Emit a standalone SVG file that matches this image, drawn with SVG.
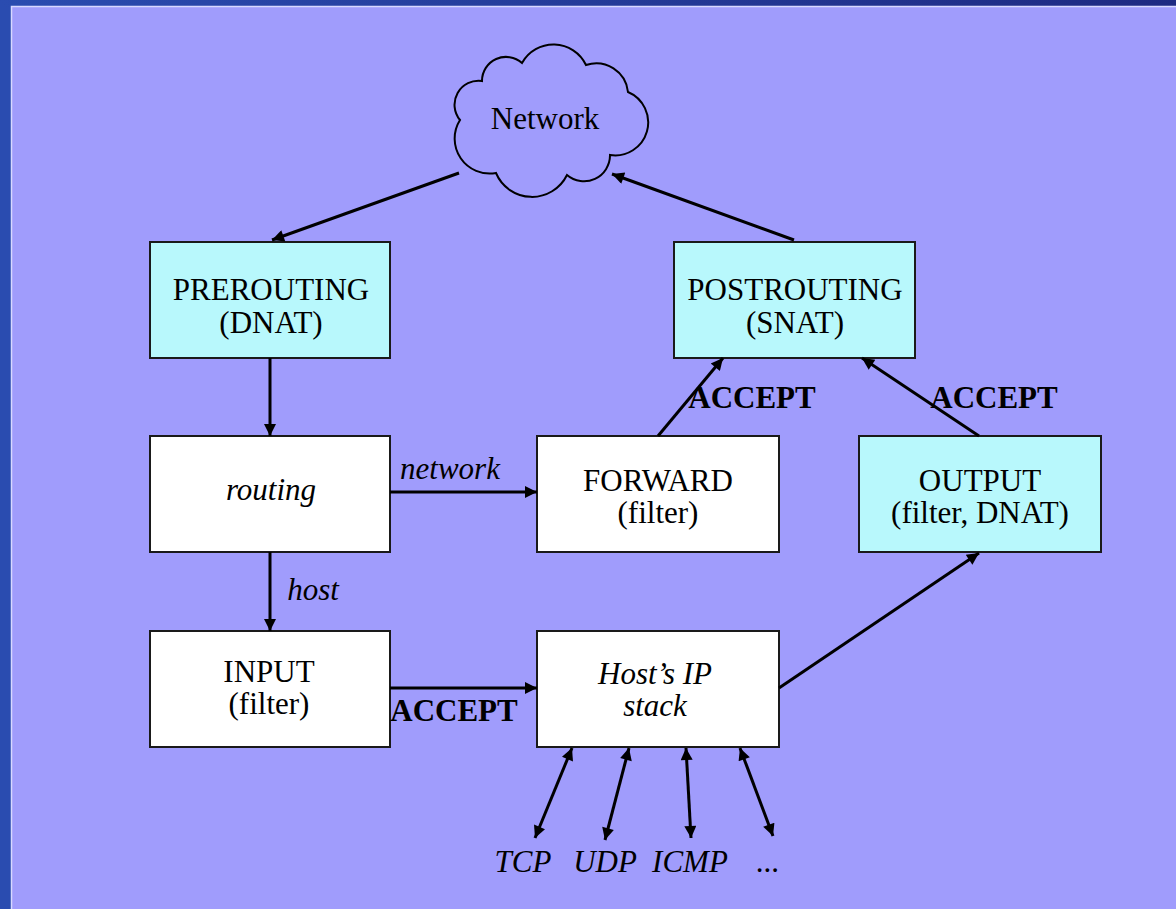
<svg xmlns="http://www.w3.org/2000/svg" width="1176" height="909" viewBox="0 0 1176 909">
<defs>
<linearGradient id="topband" x1="0" y1="0" x2="1" y2="0">
<stop offset="0" stop-color="#2a4cb0"/>
<stop offset="1" stop-color="#1e2a82"/>
</linearGradient>
<marker id="ah" viewBox="0 0 10 10" refX="10" refY="5" markerWidth="5" markerHeight="4" markerUnits="strokeWidth" orient="auto-start-reverse">
<path d="M0,0 L10,5 L0,10 z" fill="#000"/>
</marker>
<style>
.bg{fill:#a09cfc}
.box{stroke:#1a1a1a;stroke-width:2}
.white{fill:#ffffff}
.cyan{fill:#b8f8fc}
.t{font-family:"Liberation Serif","Times New Roman",serif;font-size:31px;fill:#000;text-anchor:middle}
.i{font-style:italic}
.b{font-weight:bold}
.ln{stroke:#000;stroke-width:3;fill:none}
.one{marker-end:url(#ah)}
.two{marker-end:url(#ah);marker-start:url(#ah)}
</style>
</defs>
<rect x="0" y="0" width="1176" height="909" fill="#2a4cb0"/>
<rect x="0" y="0" width="1176" height="7" fill="url(#topband)"/>
<rect x="11" y="6" width="1165" height="903" class="bg"/>
<path d="M11.5,909 V6.5 H1176" fill="none" stroke="#d8d8ff" stroke-width="1.5"/>

<g id="network">
<path d="M482,81 A24,24 0 0 1 522,63 A36,36 0 0 1 586,65 A32,32 0 0 1 628,92 A33,33 0 0 1 610,155 A26,26 0 0 1 567,175 A39,39 0 0 1 496,173 A35,35 0 0 1 460,120 A24,24 0 0 1 482,81 Z" fill="none" stroke="#000" stroke-width="2"/>
<text x="545" y="129" class="t">Network</text>
</g>

<g id="prerouting">
<rect x="150" y="242" width="240" height="116" class="box cyan"/>
<text x="271" y="300" class="t">PREROUTING</text>
<text x="271" y="333" class="t">(DNAT)</text>
</g>

<g id="postrouting">
<rect x="674" y="242" width="241" height="116" class="box cyan"/>
<text x="795" y="300" class="t">POSTROUTING</text>
<text x="795" y="333" class="t">(SNAT)</text>
</g>

<g id="routing">
<rect x="150" y="436" width="240" height="116" class="box white"/>
<text x="271" y="500" class="t i">routing</text>
</g>

<g id="forward">
<rect x="537" y="436" width="242" height="116" class="box white"/>
<text x="658" y="491" class="t">FORWARD</text>
<text x="658" y="523" class="t">(filter)</text>
</g>

<g id="output">
<rect x="859" y="436" width="242" height="116" class="box cyan"/>
<text x="980" y="491" class="t">OUTPUT</text>
<text x="980" y="523" class="t">(filter, DNAT)</text>
</g>

<g id="input">
<rect x="150" y="631" width="240" height="116" class="box white"/>
<text x="269" y="682" class="t">INPUT</text>
<text x="269" y="714" class="t">(filter)</text>
</g>

<g id="hoststack">
<rect x="537" y="631" width="242" height="116" class="box white"/>
<text x="655" y="684" class="t i">Host’s IP</text>
<text x="655" y="716" class="t i">stack</text>
</g>

<g id="connectors">
<line x1="459" y1="173" x2="272" y2="240" class="ln one"/>
<line x1="794" y1="240" x2="612" y2="174" class="ln one"/>
<line x1="270" y1="358" x2="270" y2="436" class="ln one"/>
<line x1="390" y1="492" x2="537" y2="492" class="ln one"/>
<line x1="270" y1="552" x2="270" y2="631" class="ln one"/>
<line x1="390" y1="688" x2="537" y2="688" class="ln one"/>
<line x1="658" y1="436" x2="723" y2="358" class="ln one"/>
<line x1="979" y1="436" x2="862" y2="358" class="ln one"/>
<line x1="779" y1="688" x2="979" y2="553" class="ln one"/>
<line x1="572" y1="748" x2="535" y2="838" class="ln two"/>
<line x1="629" y1="748" x2="605" y2="840" class="ln two"/>
<line x1="686" y1="748" x2="691" y2="838" class="ln two"/>
<line x1="740" y1="748" x2="773" y2="836" class="ln two"/>
<text x="450" y="479" class="t i">network</text>
<text x="313" y="600" class="t i">host</text>
<text x="454" y="721" class="t b">ACCEPT</text>
<text x="752" y="408" class="t b">ACCEPT</text>
<text x="994" y="408" class="t b">ACCEPT</text>
<text x="523" y="872" class="t i">TCP</text>
<text x="605" y="872" class="t i">UDP</text>
<text x="690" y="872" class="t i">ICMP</text>
<text x="768" y="872" class="t i">...</text>
</g>
</svg>
